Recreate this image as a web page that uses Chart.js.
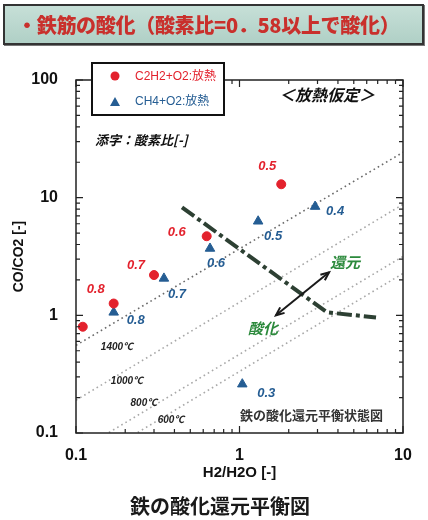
<!DOCTYPE html>
<html>
<head>
<meta charset="utf-8">
<script src="https://cdn.jsdelivr.net/npm/chart.js@4.4.1/dist/chart.umd.min.js"></script>
<style>
  html, body { margin: 0; padding: 0; background: #fff; }
  #wrap { position: relative; width: 428px; height: 520px; }
  #myCanvas { position: absolute; left: 0; top: 0; }
  #banner {
    position: absolute; left: 3px; top: 4px; width: 421px; height: 41px;
    box-sizing: border-box; border: 2px solid #333; box-shadow: 1px 1px 0 #777;
    background: linear-gradient(#c6dfd7, #b0d0c6);
    font: 900 20px "Noto Sans CJK JP", sans-serif; color: #c9302c;
    line-height: 37px; padding-left: 12px; white-space: nowrap; letter-spacing: -0.3px;
  }
</style>
</head>
<body>
<div id="wrap">
  <canvas id="myCanvas" width="428" height="520"></canvas>
  <div id="banner">・鉄筋の酸化（酸素比=0．58以上で酸化）</div>
</div>
<script>
// data
const c2h2X = [0.11, 0.17, 0.30, 0.63, 1.8];
const c2h2Y = [0.80, 1.26, 2.2, 4.7, 13];
const c2h2Ratio = ["", "0.8", "0.7", "0.6", "0.5"];

const ch4X = [0.17, 0.345, 0.66, 1.3, 2.9, 1.04];
const ch4Y = [1.06, 2.06, 3.7, 6.3, 8.4, 0.26];
const ch4Ratio = ["0.8", "0.7", "0.6", "0.5", "0.4", "0.3"];

// Fe / FeO boundary (dash-dot)
const boundaryX = [0.445, 3.43, 6.84];
const boundaryY = [8.27, 1.06, 0.96];

// isotherms (dotted)
const isoTemps = ["1400℃", "1000℃", "800℃", "600℃"];
const isoX = [0.1, 10];
const isoY = [[0.556, 24.3], [0.19, 8.77], [0.0686, 3.17], [0.049, 2.27]];
const isoLabelX = [0.178, 0.205, 0.26, 0.381];
const isoLabelY = [0.535, 0.275, 0.179, 0.128];

// arrow between 酸化 / 還元
const arrowX = [1.67, 3.53];
const arrowY = [1.0, 2.32];
const reduceLabel = [4.42, 2.82];
const oxidLabel = [1.39, 0.776];

const xDecades = [0.1, 1, 10];
const yDecades = [0.1, 1, 10, 100];

const RED = "#e3222d";
const BLUE = "#255d93";
const GREEN = "#2c8a3c";
const jp = '"Noto Sans CJK JP", sans-serif';
const lat = '"Liberation Sans", "Noto Sans CJK JP", sans-serif';

// offsets of the ratio labels from their marks (px)
const redLabelOff = [[0, 0], [-18, -14], [-18, -10], [-30, -4], [-14, -18]];
const blueLabelOff = [[22, 8], [13, 16], [6, 15], [15, 15], [20, 5], [24, 9]];

function logTicks(decades) {
  let out = [];
  for (let i = 0; i < decades.length - 1; i++) {
    for (let m = 1; m <= 9; m++) out.push(parseFloat((m * decades[i]).toPrecision(3)));
  }
  out.push(decades[decades.length - 1]);
  return out;
}

function pts(xs, ys) {
  return xs.map((v, i) => ({ x: v, y: ys[i] }));
}

let datasets = [];
isoY.forEach((ys, i) => {
  datasets.push({
    label: isoTemps[i],
    data: pts(isoX, ys),
    showLine: true,
    pointRadius: 0,
    borderColor: i == 0 ? "#6a6a6a" : "#a8a8a8",
    borderWidth: 1.6,
    borderDash: [1.6, 3.2],
    order: 3
  });
});
datasets.push({
  label: "Fe/FeO",
  data: pts(boundaryX, boundaryY),
  showLine: true,
  pointRadius: 0,
  borderColor: "#2d4033",
  borderWidth: 4,
  borderDash: [15, 4, 4, 4],
  order: 2
});
datasets.push({
  label: "C2H2+O2:放熱",
  data: pts(c2h2X, c2h2Y),
  pointStyle: "circle",
  pointRadius: 4.5,
  backgroundColor: RED,
  borderColor: RED,
  borderWidth: 1,
  order: 0
});
datasets.push({
  label: "CH4+O2:放熱",
  data: pts(ch4X, ch4Y),
  pointStyle: "triangle",
  pointRadius: 5.5,
  backgroundColor: BLUE,
  borderColor: BLUE,
  borderWidth: 1,
  order: 1
});

function arrowHead(ctx, x0, y0, x1, y1) {
  const ang = Math.atan2(y1 - y0, x1 - x0);
  ctx.beginPath();
  ctx.moveTo(x1 - 9 * Math.cos(ang - 0.4), y1 - 9 * Math.sin(ang - 0.4));
  ctx.lineTo(x1, y1);
  ctx.lineTo(x1 - 9 * Math.cos(ang + 0.4), y1 - 9 * Math.sin(ang + 0.4));
  ctx.stroke();
}

const decor = {
  id: "decor",
  afterDraw(chart) {
    const { ctx, chartArea: a, scales: { x, y } } = chart;
    ctx.save();

    // frame + inward ticks
    ctx.strokeStyle = "#222";
    ctx.lineWidth = 1.5;
    ctx.strokeRect(a.left, a.top, a.right - a.left, a.bottom - a.top);
    ctx.lineWidth = 1.2;
    ctx.beginPath();
    x.ticks.forEach(t => {
      const px = x.getPixelForValue(t.value);
      const len = xDecades.includes(t.value) ? 7 : 4;
      ctx.moveTo(px, a.bottom); ctx.lineTo(px, a.bottom - len);
      ctx.moveTo(px, a.top); ctx.lineTo(px, a.top + len);
    });
    y.ticks.forEach(t => {
      const py = y.getPixelForValue(t.value);
      const len = yDecades.includes(t.value) ? 7 : 4;
      ctx.moveTo(a.left, py); ctx.lineTo(a.left + len, py);
      ctx.moveTo(a.right, py); ctx.lineTo(a.right - len, py);
    });
    ctx.stroke();

    // ratio labels
    ctx.font = "italic bold 13px " + lat;
    ctx.textAlign = "center";
    ctx.textBaseline = "middle";
    const redMeta = chart.getDatasetMeta(datasets.length - 2);
    redMeta.data.forEach((p, i) => {
      if (!c2h2Ratio[i]) return;
      ctx.fillStyle = RED;
      ctx.fillText(c2h2Ratio[i], p.x + redLabelOff[i][0], p.y + redLabelOff[i][1]);
    });
    const blueMeta = chart.getDatasetMeta(datasets.length - 1);
    blueMeta.data.forEach((p, i) => {
      ctx.fillStyle = BLUE;
      ctx.fillText(ch4Ratio[i], p.x + blueLabelOff[i][0], p.y + blueLabelOff[i][1]);
    });

    // isotherm labels
    ctx.fillStyle = "#222";
    ctx.font = "italic bold 10px " + lat;
    isoTemps.forEach((t, i) => {
      ctx.fillText(t, x.getPixelForValue(isoLabelX[i]), y.getPixelForValue(isoLabelY[i]));
    });

    // oxidation / reduction arrow
    const ax0 = x.getPixelForValue(arrowX[0]), ay0 = y.getPixelForValue(arrowY[0]);
    const ax1 = x.getPixelForValue(arrowX[1]), ay1 = y.getPixelForValue(arrowY[1]);
    ctx.strokeStyle = "#1a1a1a";
    ctx.lineWidth = 2;
    ctx.beginPath();
    ctx.moveTo(ax0, ay0); ctx.lineTo(ax1, ay1);
    ctx.stroke();
    arrowHead(ctx, ax0, ay0, ax1, ay1);
    arrowHead(ctx, ax1, ay1, ax0, ay0);

    ctx.fillStyle = GREEN;
    ctx.font = "italic bold 15px " + jp;
    ctx.fillText("還元", x.getPixelForValue(reduceLabel[0]), y.getPixelForValue(reduceLabel[1]));
    ctx.fillText("酸化", x.getPixelForValue(oxidLabel[0]), y.getPixelForValue(oxidLabel[1]));

    // annotations
    ctx.fillStyle = "#111";
    ctx.font = "italic bold 16px " + jp;
    ctx.fillText("＜放熱仮定＞", a.right - 76, a.top + 15);
    ctx.textAlign = "left";
    ctx.font = "italic bold 13px " + jp;
    ctx.fillText("添字：酸素比[-]", a.left + 19, a.top + 60);
    ctx.fillStyle = "#333";
    ctx.font = "bold 13px " + jp;
    ctx.fillText("鉄の酸化還元平衡状態図", a.right - 163, a.bottom - 18);

    // legend box
    const lx = 92, ly = 63, lw = 132, lh = 52;
    ctx.fillStyle = "#fff";
    ctx.fillRect(lx, ly, lw, lh);
    ctx.strokeStyle = "#111";
    ctx.lineWidth = 2;
    ctx.strokeRect(lx, ly, lw, lh);
    ctx.fillStyle = RED;
    ctx.beginPath();
    ctx.arc(lx + 23, ly + 13, 4.5, 0, Math.PI * 2);
    ctx.fill();
    ctx.fillStyle = BLUE;
    ctx.beginPath();
    ctx.moveTo(lx + 23, ly + 34); ctx.lineTo(lx + 28, ly + 43); ctx.lineTo(lx + 18, ly + 43);
    ctx.closePath();
    ctx.fill();
    ctx.font = "12px " + lat;
    ctx.fillStyle = RED;
    ctx.fillText(datasets[datasets.length - 2].label, lx + 43, ly + 14);
    ctx.fillStyle = BLUE;
    ctx.fillText(datasets[datasets.length - 1].label, lx + 43, ly + 39);

    // caption
    ctx.fillStyle = "#1a1a1a";
    ctx.textAlign = "center";
    ctx.font = "bold 20px " + jp;
    ctx.fillText("鉄の酸化還元平衡図", 220, 506);
    ctx.restore();
  }
};

const ctx = document.getElementById("myCanvas").getContext("2d");

const myChart = new Chart(ctx, {
  type: "scatter",
  data: { datasets: datasets },
  options: {
    responsive: false,
    animation: false,
    layout: { padding: { top: 80, right: 25, bottom: 0, left: 0 } },
    plugins: { legend: { display: false }, tooltip: { enabled: false } },
    scales: {
      x: {
        type: "logarithmic",
        min: 0.1,
        max: 10,
        afterBuildTicks: s => { s.ticks = logTicks(xDecades).map(v => ({ value: v })); },
        afterFit: s => { s.height = 87; },
        grid: { display: false },
        border: { display: false },
        ticks: {
          autoSkip: false,
          maxRotation: 0,
          padding: 5,
          color: "#111",
          font: { family: "Liberation Sans", size: 16, weight: "bold" },
          callback: v => xDecades.includes(v) ? String(v) : ""
        },
        title: {
          display: true,
          text: "H2/H2O [-]",
          color: "#111",
          font: { family: "Liberation Sans", size: 15, weight: "bold" },
          padding: { top: 0, bottom: 38 }
        }
      },
      y: {
        type: "logarithmic",
        min: 0.1,
        max: 100,
        afterBuildTicks: s => { s.ticks = logTicks(yDecades).map(v => ({ value: v })); },
        afterFit: s => { s.width = 76; },
        grid: { display: false },
        border: { display: false },
        ticks: {
          autoSkip: false,
          padding: 10,
          color: "#111",
          font: { family: "Liberation Sans", size: 16, weight: "bold" },
          callback: v => yDecades.includes(v) ? String(v) : ""
        },
        title: {
          display: true,
          text: "CO/CO2 [-]",
          color: "#111",
          font: { family: "Liberation Sans", size: 14, weight: "bold" },
          padding: { top: 11, bottom: 0 }
        }
      }
    }
  },
  plugins: [decor]
});
</script>
</body>
</html>
